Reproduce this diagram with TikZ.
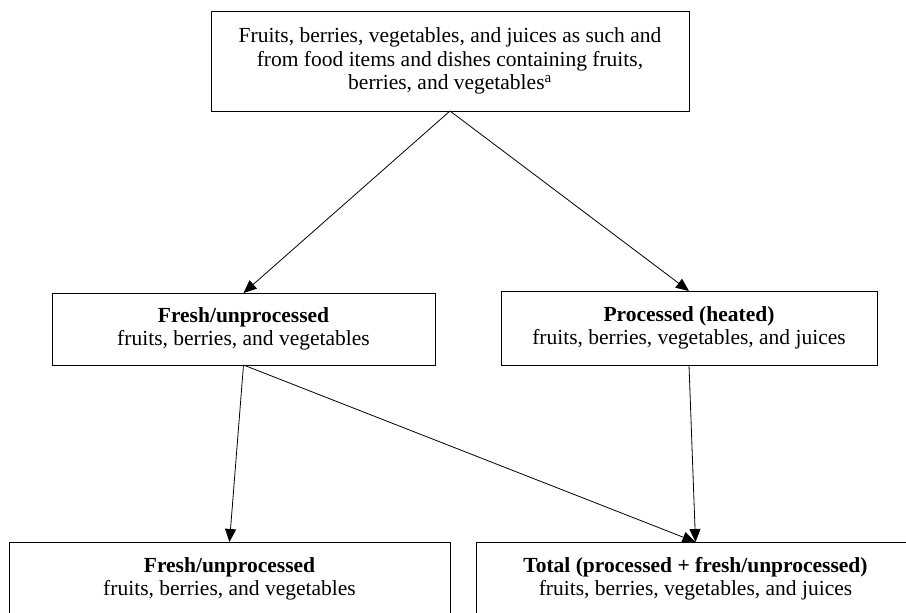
\documentclass[tikz,border=0pt]{standalone}
\usepackage{fontspec}
\setmainfont{Liberation Serif}
\usetikzlibrary{arrows.meta}
\begin{document}
\begin{tikzpicture}[x=1pt,y=-1pt,
  box/.style={draw=black, line width=0.9pt, inner sep=0pt, outer sep=0pt, align=center,
    font=\fontsize{21.5}{23.5}\selectfont},
  conn/.style={draw=black, line width=0.8pt, -{Triangle[length=13pt,width=11pt]}}]
\useasboundingbox (0,0) rectangle (906,613);
\node[box, minimum width=478pt, minimum height=100pt] (top) at (450,61)
  {Fruits, berries, vegetables, and juices as such and\\from food items and dishes containing fruits,\\berries, and vegetables\textsuperscript{a}};
\node[box, minimum width=383pt, minimum height=72pt] (ml) at (243.5,329)
  {\textbf{Fresh/unprocessed}\\fruits, berries, and vegetables};
\node[box, minimum width=376pt, minimum height=74pt] (mr) at (689,328)
  {\textbf{Processed (heated)}\\fruits, berries, vegetables, and juices};
\node[box, minimum width=441pt, minimum height=73.5pt] (bl) at (229.5,578.75)
  {\textbf{Fresh/unprocessed}\\fruits, berries, and vegetables};
\node[box, minimum width=439pt, minimum height=73.5pt] (br) at (695.5,578.75)
  {\textbf{Total (processed + fresh/unprocessed)}\\fruits, berries, vegetables, and juices};
\draw[conn] (top.south) -- (ml.north);
\draw[conn] (top.south) -- (mr.north);
\draw[conn] (ml.south) -- (bl.north);
\draw[conn] (ml.south) -- (br.north);
\draw[conn] (mr.south) -- (br.north);
\end{tikzpicture}
\end{document}
